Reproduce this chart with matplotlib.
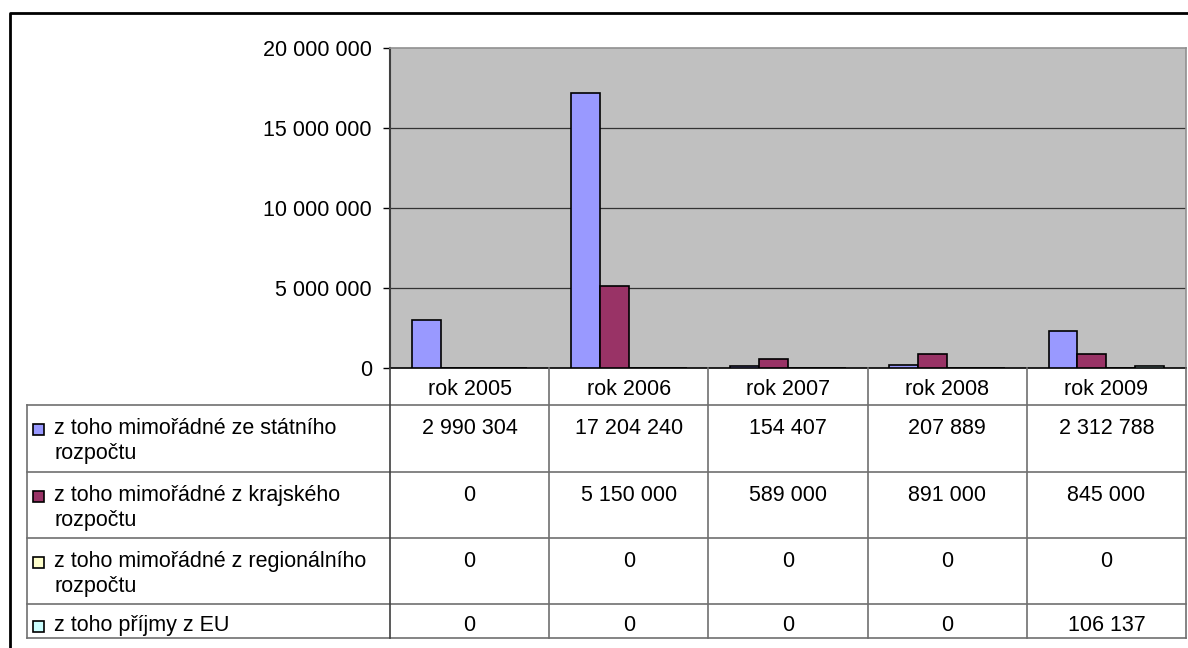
import matplotlib.pyplot as plt
from matplotlib.patches import Rectangle

# data
years = ["rok 2005", "rok 2006", "rok 2007", "rok 2008", "rok 2009"]
series_names = [
    ["z toho mimořádné ze státního", "rozpočtu"],
    ["z toho mimořádné z krajského", "rozpočtu"],
    ["z toho mimořádné z regionálního", "rozpočtu"],
    ["z toho příjmy z EU"],
]
statni = [2990304, 17204240, 154407, 207889, 2312788]
krajsky = [0, 5150000, 589000, 891000, 845000]
regionalni = [0, 0, 0, 0, 0]
eu = [0, 0, 0, 0, 106137]
yticks = [0, 5000000, 10000000, 15000000, 20000000]

colors = ["#9999FF", "#993366", "#FFFFCC", "#CCFFFF"]
all_series = [statni, krajsky, regionalni, eu]

plt.rcParams["font.family"] = ["Liberation Sans", "DejaVu Sans"]
FS = 15.5


def fmt(v):
    return f"{v:,}".replace(",", " ")


W, H = 1188, 648
fig = plt.figure(figsize=(W / 100, H / 100), dpi=100)

# pixel layout
px_left, px_right, px_top, px_bottom = 390, 1186, 48, 368
row_lines = [405, 472, 538, 604, 638]
tab_left = 27

ax = fig.add_axes([px_left / W, 1 - px_bottom / H,
                   (px_right - px_left) / W, (px_bottom - px_top) / H])
ax.set_facecolor("#C0C0C0")

n = len(years)
w = 1 / 5.5
for j, (vals, c) in enumerate(zip(all_series, colors)):
    xs = [i + (j - 1.5) * w for i in range(n)]
    ax.bar(xs, vals, width=w, color=c, edgecolor="black", linewidth=1.2, zorder=3)

ax.set_xlim(-0.5, n - 0.5)
ax.set_ylim(0, 20000000)
ax.set_yticks(yticks)
ax.set_yticklabels([fmt(v) for v in yticks], fontsize=FS)
ax.set_xticks([])
ax.tick_params(axis="y", direction="out", length=5, width=1, color="black", pad=8)
for y in yticks[1:-1]:
    ax.axhline(y, color="#333333", lw=0.9, zorder=1)
ax.spines["left"].set_color("#404040")
ax.spines["left"].set_linewidth(1.5)
ax.spines["top"].set_color("#909090")
ax.spines["top"].set_linewidth(1.2)
ax.spines["right"].set_color("#909090")
ax.spines["right"].set_linewidth(1.2)
ax.spines["bottom"].set_color("black")
ax.spines["bottom"].set_linewidth(1.2)

# overlay in pixel coordinates for frame and data table
ov = fig.add_axes([0, 0, 1, 1], facecolor="none")
ov.set_xlim(0, W)
ov.set_ylim(H, 0)
ov.axis("off")

# outer chart frame
ov.plot([10, 10, W + 5], [H + 5, 13, 13], color="black", lw=2)

grid_c = "#707070"
col_edges = [px_left + i * (px_right - px_left) / n for i in range(n + 1)]
for y in row_lines:
    ov.plot([tab_left, px_right], [y, y], color=grid_c, lw=1.2)
ov.plot([tab_left, tab_left], [row_lines[0], row_lines[-1]], color=grid_c, lw=1.2)
for x in col_edges:
    ov.plot([x, x], [px_bottom, row_lines[-1]],
            color="#404040" if x == px_left else grid_c, lw=1.2)

# header row
for i, yr in enumerate(years):
    cx = (col_edges[i] + col_edges[i + 1]) / 2
    ov.text(cx, 395, yr, ha="center", va="baseline", fontsize=FS)

# data rows
for r, (lines, vals, c) in enumerate(zip(series_names, all_series, colors)):
    base = row_lines[r] + 29 if r < 3 else row_lines[r] + 27
    ov.add_patch(Rectangle((33, base - 10), 11, 11, facecolor=c,
                           edgecolor="black", lw=1.2))
    for k, line in enumerate(lines):
        ov.text(54, base + 25 * k, line, ha="left", va="baseline", fontsize=FS)
    for i, v in enumerate(vals):
        cx = (col_edges[i] + col_edges[i + 1]) / 2
        ov.text(cx, base, fmt(v), ha="center", va="baseline", fontsize=FS)

fig.savefig("out.png", dpi=100)
